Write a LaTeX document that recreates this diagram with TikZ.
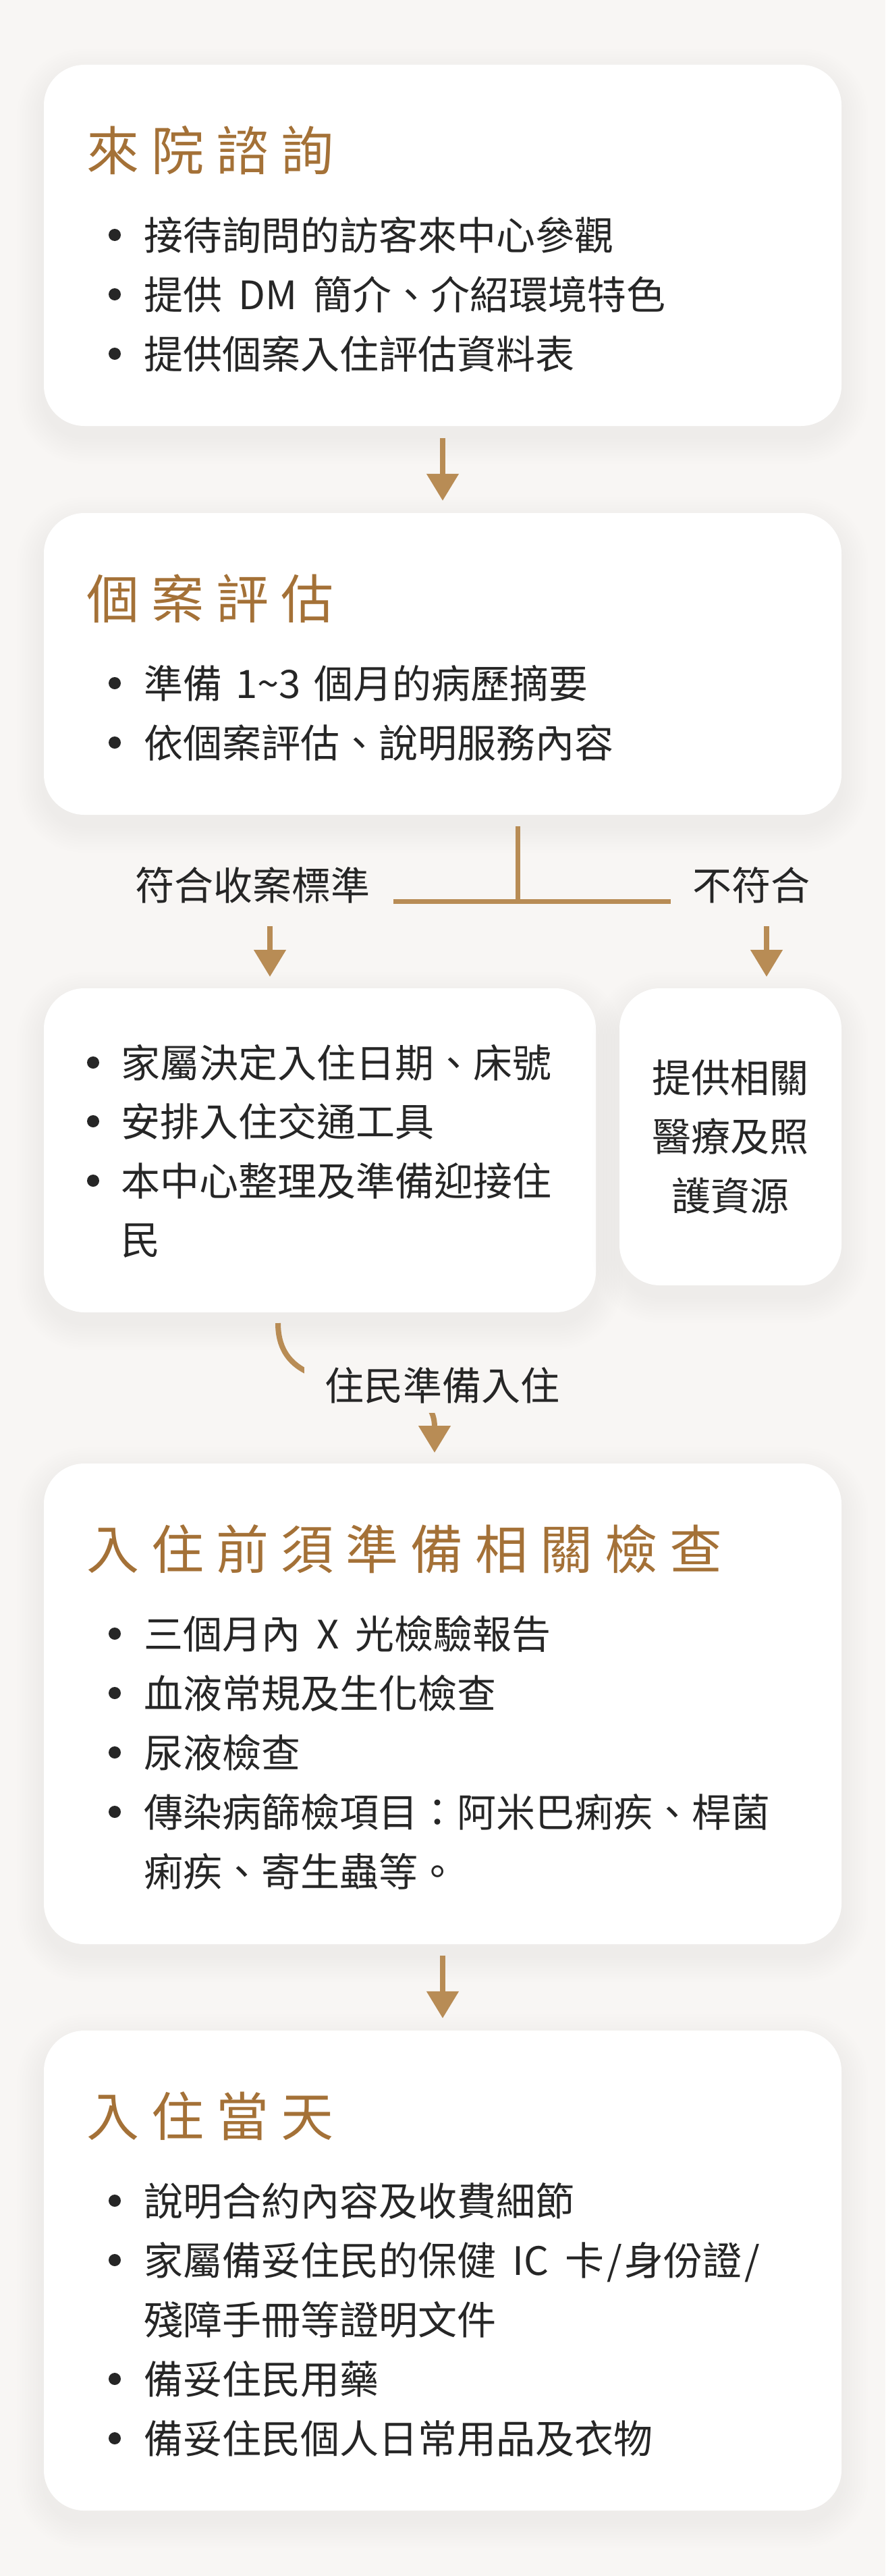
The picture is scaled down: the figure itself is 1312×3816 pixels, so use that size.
\documentclass[tikz,border=0pt]{standalone}
\usepackage{fontspec}
\setmainfont{Noto Sans CJK TC}
\usetikzlibrary{arrows.meta}
\definecolor{bgc}{HTML}{F8F6F4}
\definecolor{brownt}{HTML}{A47137}
\definecolor{brownl}{HTML}{B88C55}
\definecolor{inkc}{HTML}{262626}
\definecolor{shadc}{HTML}{8A827A}
\tikzset{
  card/.style={fill=white, rounded corners=60pt, inner sep=0pt, draw=none},
  ttl/.style={anchor=base west, text=brownt, font=\fontsize{78}{90}\selectfont, inner sep=0pt},
  body/.style={anchor=base west, text=inkc, font=\fontsize{58}{70}\selectfont, inner sep=0pt},
  cbody/.style={anchor=base, text=inkc, font=\fontsize{58}{70}\selectfont, inner sep=0pt},
  dotb/.style={circle, fill=inkc, minimum size=18pt, inner sep=0pt},
  conn/.style={draw=brownl, line width=7pt},
  arr/.style={draw=brownl, line width=8pt, -{Triangle[length=40pt,width=46pt]}},
}
\newcommand\ls{\kern18pt}
\newcommand\sw{\hspace{24pt}}
\newcommand\slsh{\kern4pt/\kern4pt}
\newcommand\mkcard[5]{%
  \foreach \d in {4,8,...,40}{%
    \pgfmathsetmacro\rr{60+\d}%
    \fill[shadc, opacity=0.0045, rounded corners=\rr pt] (#2-\d,#3-\d+16) rectangle (#4+\d,#5+\d+16);
  }%
  \node[card, minimum width={#4-#2}, minimum height={#5-#3}] (#1) at ({(#2+#4)/2},{(#3+#5)/2}) {};
}
\begin{document}
\begin{tikzpicture}[x=1pt,y=-1pt]
\useasboundingbox (0,0) rectangle (1312,3816);
\fill[bgc] (0,0) rectangle (1312,3816);

% ---- cards ----
\mkcard{c1}{65}{96}{1247}{631}
\mkcard{c2}{65}{760}{1247}{1207}
\mkcard{c3}{65}{1464}{883}{1944}
\mkcard{c4}{918}{1464}{1247}{1904}
\mkcard{c5}{65}{2168}{1247}{2880}
\mkcard{c6}{65}{3008}{1247}{3719}

% ---- card 1 ----
\node[ttl] (t1) at (128,252) {來\ls 院\ls 諮\ls 詢};
\node[dotb] (d11) at (170,348) {};
\node[body] (l11) at (213,370) {接待詢問的訪客來中心參觀};
\node[dotb] (d12) at (170,436) {};
\node[body] (l12) at (213,458) {提供\sw DM\sw 簡介、介紹環境特色};
\node[dotb] (d13) at (170,524) {};
\node[body] (l13) at (213,546) {提供個案入住評估資料表};

\draw[arr] ([yshift=-18pt]c1.south) -- ([yshift=18pt]c2.north);

% ---- card 2 ----
\node[ttl] (t2) at (128,916) {個\ls 案\ls 評\ls 估};
\node[dotb] (d21) at (170,1012) {};
\node[body] (l21) at (213,1034) {準備\hspace{20pt}1\textasciitilde 3\hspace{20pt}個月的病歷摘要};
\node[dotb] (d22) at (170,1100) {};
\node[body] (l22) at (213,1122) {依個案評估、說明服務內容};

% ---- branch ----
\coordinate (jt) at (767,1224);
\coordinate (jb) at (767,1335);
\coordinate (hl) at (583,1335);
\coordinate (hr) at (994,1335);
\draw[conn] (jt) -- (jb);
\draw[conn] (hl) -- (hr);
\node[cbody] (lab1) at (374.5,1333) {符合收案標準};
\node[cbody] (lab2) at (1113,1333) {不符合};
\coordinate (a1s) at (400,1372);
\coordinate (a1e) at (400,1447);
\coordinate (a2s) at (1136,1372);
\coordinate (a2e) at (1136,1447);
\draw[arr] (a1s) -- (a1e);
\draw[arr] (a2s) -- (a2e);

% ---- card 3 (left) ----
\node[dotb] (d31) at (138,1574) {};
\node[body] (l31) at (179,1596) {家屬決定入住日期、床號};
\node[dotb] (d32) at (138,1661) {};
\node[body] (l32) at (179,1683) {安排入住交通工具};
\node[dotb] (d33) at (138,1749) {};
\node[body] (l33) at (179,1771) {本中心整理及準備迎接住};
\node[body] (l34) at (179,1858) {民};

% ---- card 4 (right) ----
\node[cbody] (r1) at (1082,1618) {提供相關};
\node[cbody] (r2) at (1082,1705) {醫療及照};
\node[cbody] (r3) at (1082,1793) {護資源};

% ---- curved connector ----
\coordinate (cs) at (412,1960);
\coordinate (ce) at (644,2152);
\draw[arr] (cs) .. controls (412,2100) and (644,2010) .. (ce);
\node[cbody, fill=bgc, inner xsep=30pt, inner ysep=14pt] (lab3) at (655,2074) {住民準備入住};

% ---- card 5 ----
\node[ttl] (t5) at (128,2324) {入\ls 住\ls 前\ls 須\ls 準\ls 備\ls 相\ls 關\ls 檢\ls 查};
\node[dotb] (d51) at (170,2420) {};
\node[body] (l51) at (213,2442) {三個月內\sw X\sw 光檢驗報告};
\node[dotb] (d52) at (170,2508) {};
\node[body] (l52) at (213,2530) {血液常規及生化檢查};
\node[dotb] (d53) at (170,2596) {};
\node[body] (l53) at (213,2618) {尿液檢查};
\node[dotb] (d54) at (170,2684) {};
\node[body] (l54) at (213,2706) {傳染病篩檢項目：阿米巴痢疾、桿菌};
\node[body] (l55) at (213,2794) {痢疾、寄生蟲等。};

\draw[arr] ([yshift=-17pt]c5.south) -- ([yshift=18pt]c6.north);

% ---- card 6 ----
\node[ttl] (t6) at (128,3164) {入\ls 住\ls 當\ls 天};
\node[dotb] (d61) at (170,3260) {};
\node[body] (l61) at (213,3282) {說明合約內容及收費細節};
\node[dotb] (d62) at (170,3348) {};
\node[body] (l62) at (213,3370) {家屬備妥住民的保健\sw IC\sw 卡\slsh 身份證\slsh};
\node[body] (l63) at (213,3458) {殘障手冊等證明文件};
\node[dotb] (d64) at (170,3524) {};
\node[body] (l64) at (213,3546) {備妥住民用藥};
\node[dotb] (d65) at (170,3612) {};
\node[body] (l65) at (213,3634) {備妥住民個人日常用品及衣物};
\end{tikzpicture}
\end{document}
